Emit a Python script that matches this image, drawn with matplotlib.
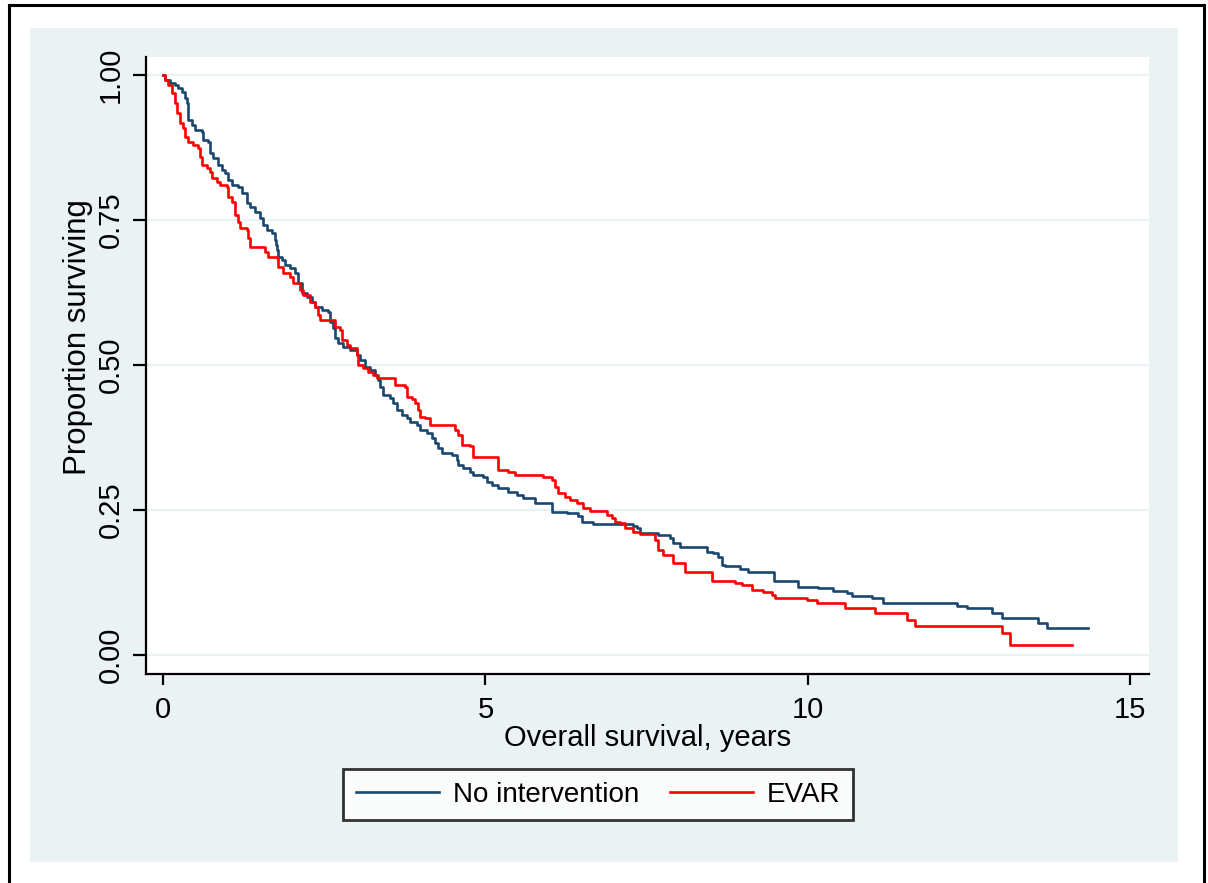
#!/usr/bin/env python3
"""Kaplan-Meier overall survival: no intervention vs EVAR."""

import matplotlib

matplotlib.use("Agg")
import matplotlib.pyplot as plt
from matplotlib.lines import Line2D
from matplotlib.patches import Rectangle
import numpy as np

# step times (years) and survival after each step
NO_INT_TIME = [
    0.0, 0.031, 0.109, 0.186, 0.233, 0.295, 0.341, 0.372, 0.388, 0.450, 0.496,
    0.605, 0.620, 0.698, 0.729, 0.776, 0.853, 0.915, 0.962, 1.008, 1.070, 1.163,
    1.225, 1.303, 1.349, 1.427, 1.505, 1.551, 1.613, 1.691, 1.737, 1.753, 1.768,
    1.784, 1.846, 1.892, 1.970, 2.047, 2.094, 2.156, 2.234, 2.311, 2.358, 2.466,
    2.559, 2.590, 2.637, 2.668, 2.714, 2.792, 2.901, 3.009, 3.056, 3.133, 3.211,
    3.288, 3.335, 3.366, 3.412, 3.521, 3.568, 3.630, 3.707, 3.785, 3.831, 3.940,
    3.986, 4.095, 4.172, 4.219, 4.265, 4.327, 4.483, 4.560, 4.576, 4.653, 4.762,
    4.808, 4.964, 5.026, 5.103, 5.196, 5.351, 5.491, 5.584, 5.770, 6.034, 6.267,
    6.437, 6.499, 6.670, 7.290, 7.352, 7.399, 7.678, 7.864, 7.911, 8.019, 8.438,
    8.531, 8.609, 8.671, 8.717, 8.950, 9.074, 9.477, 9.849, 10.160, 10.392,
    10.610, 10.687, 10.997, 11.168, 12.316, 12.471, 12.859, 13.014, 13.572,
    13.712,
]
NO_INT_SURV = [
    1.0, 0.991, 0.986, 0.983, 0.978, 0.971, 0.960, 0.952, 0.922, 0.914, 0.905,
    0.902, 0.888, 0.884, 0.866, 0.857, 0.845, 0.836, 0.831, 0.819, 0.810, 0.807,
    0.797, 0.779, 0.772, 0.764, 0.753, 0.741, 0.733, 0.728, 0.716, 0.707, 0.698,
    0.686, 0.681, 0.672, 0.667, 0.659, 0.641, 0.624, 0.617, 0.609, 0.600, 0.595,
    0.591, 0.574, 0.564, 0.547, 0.538, 0.531, 0.526, 0.517, 0.509, 0.497, 0.491,
    0.483, 0.474, 0.462, 0.448, 0.443, 0.434, 0.422, 0.414, 0.409, 0.402, 0.397,
    0.388, 0.383, 0.374, 0.366, 0.357, 0.348, 0.345, 0.336, 0.328, 0.322, 0.316,
    0.310, 0.307, 0.298, 0.293, 0.288, 0.281, 0.276, 0.271, 0.262, 0.247, 0.245,
    0.240, 0.229, 0.226, 0.222, 0.219, 0.210, 0.207, 0.202, 0.193, 0.186, 0.178,
    0.176, 0.169, 0.155, 0.153, 0.148, 0.143, 0.128, 0.117, 0.116, 0.110,
    0.107, 0.102, 0.098, 0.090, 0.084, 0.081, 0.072, 0.064, 0.055,
    0.047,
]
NO_INT_END = 14.348

EVAR_TIME = [
    0.0, 0.031, 0.078, 0.140, 0.186, 0.217, 0.264, 0.310, 0.341, 0.388, 0.465,
    0.543, 0.574, 0.605, 0.682, 0.729, 0.760, 0.838, 0.884, 0.993, 1.008, 1.070,
    1.117, 1.163, 1.194, 1.303, 1.318, 1.349, 1.582, 1.629, 1.768, 1.784, 1.861,
    1.970, 2.016, 2.125, 2.172, 2.280, 2.358, 2.404, 2.435, 2.668, 2.745, 2.776,
    2.854, 2.901, 3.009, 3.025, 3.102, 3.180, 3.257, 3.319, 3.599, 3.754, 3.785,
    3.862, 3.909, 3.955, 3.986, 4.064, 4.141, 4.529, 4.576, 4.638, 4.762, 4.808,
    5.196, 5.351, 5.460, 5.894, 6.034, 6.080, 6.127, 6.235, 6.313, 6.422, 6.515,
    6.623, 6.887, 6.964, 7.011, 7.089, 7.166, 7.290, 7.399, 7.632, 7.678, 7.756,
    7.911, 8.097, 8.516, 8.872, 8.981, 9.136, 9.307, 9.446, 9.493, 9.989,
    10.144, 10.579, 11.044, 11.540, 11.664, 13.014, 13.138,
]
EVAR_SURV = [
    1.0, 0.991, 0.983, 0.969, 0.952, 0.934, 0.917, 0.909, 0.893, 0.884, 0.879,
    0.874, 0.859, 0.845, 0.840, 0.833, 0.822, 0.816, 0.810, 0.807, 0.790, 0.781,
    0.759, 0.747, 0.736, 0.733, 0.719, 0.703, 0.695, 0.686, 0.684, 0.669, 0.659,
    0.652, 0.641, 0.629, 0.621, 0.609, 0.600, 0.586, 0.578, 0.566, 0.560, 0.543,
    0.534, 0.529, 0.517, 0.500, 0.495, 0.488, 0.483, 0.478, 0.466, 0.462, 0.445,
    0.441, 0.434, 0.422, 0.410, 0.409, 0.397, 0.388, 0.379, 0.362, 0.360, 0.341,
    0.319, 0.316, 0.310, 0.307, 0.302, 0.290, 0.279, 0.272, 0.267, 0.262, 0.253,
    0.248, 0.241, 0.236, 0.229, 0.228, 0.219, 0.212, 0.209, 0.198, 0.181, 0.172,
    0.159, 0.143, 0.128, 0.124, 0.121, 0.112, 0.109, 0.103, 0.098, 0.095,
    0.090, 0.081, 0.072, 0.060, 0.050, 0.038, 0.017,
]
EVAR_END = 14.099

GROUP_LABELS = ["No intervention", "EVAR"]
X_TICKS = [0, 5, 10, 15]
Y_TICKS = [0.0, 0.25, 0.50, 0.75, 1.0]

NAVY = "#1a476f"
RED = "#ff0000"
BG = "#eaf2f3"

W, H = 1208, 883


def fx(px):
    return px / W


def fy(py):
    return 1 - py / H


def main():
    plt.rcParams["font.family"] = ["Liberation Sans", "DejaVu Sans"]
    fig = plt.figure(figsize=(W / 100, H / 100), dpi=100, facecolor="white")

    # outer frame and graph region
    fig.add_artist(Rectangle((fx(30), fy(862)), fx(1178) - fx(30), fy(28) - fy(862),
                             transform=fig.transFigure, facecolor=BG, edgecolor="none",
                             zorder=0))
    frame = dict(transform=fig.transFigure, color="black", linewidth=2.2)
    fig.add_artist(Line2D([fx(9), fx(9)], [0, fy(5)], **frame))
    fig.add_artist(Line2D([fx(9), fx(1204)], [fy(5), fy(5)], **frame))
    fig.add_artist(Line2D([fx(1204), fx(1204)], [0, fy(5)], **frame))

    ax = fig.add_axes([fx(146), fy(674), fx(1149) - fx(146), fy(57) - fy(674)])
    ax.set_facecolor("white")

    t1 = np.append(NO_INT_TIME, NO_INT_END)
    s1 = np.append(NO_INT_SURV, NO_INT_SURV[-1])
    t2 = np.append(EVAR_TIME, EVAR_END)
    s2 = np.append(EVAR_SURV, EVAR_SURV[-1])
    ax.step(t1, s1, where="post", color=NAVY, linewidth=1.9, label=GROUP_LABELS[0], zorder=3)
    ax.step(t2, s2, where="post", color=RED, linewidth=1.9, label=GROUP_LABELS[1], zorder=3)

    ax.set_xlim(-0.264, 15.29)
    ax.set_ylim(-0.033, 1.031)
    ax.set_xticks(X_TICKS)
    ax.set_yticks(Y_TICKS)
    ax.set_yticklabels([f"{v:.2f}" for v in Y_TICKS])
    ax.grid(axis="y", color=BG, linewidth=1.6)
    ax.set_axisbelow(True)
    for side in ("top", "right"):
        ax.spines[side].set_visible(False)
    for side in ("left", "bottom"):
        ax.spines[side].set_linewidth(1.6)
    ax.tick_params(axis="x", length=8, width=1.6, labelsize=21, pad=8)
    ax.tick_params(axis="y", length=9.5, width=1.6, labelsize=21, pad=6)
    for lab in ax.get_yticklabels():
        lab.set_rotation(90)
        lab.set_verticalalignment("center")

    ax.set_xlabel("Overall survival, years", fontsize=21, labelpad=0)
    ax.set_ylabel("Proportion surviving", fontsize=22.5)
    ax.yaxis.set_label_coords(-0.053, 0.546)

    leg = fig.legend(loc="center", bbox_to_anchor=(fx(598), fy(794.5)), ncol=2,
                     fontsize=20, frameon=True, fancybox=False, edgecolor="black",
                     handlelength=3.0, handletextpad=0.5, columnspacing=1.1,
                     borderpad=0.45)
    leg.get_frame().set_linewidth(2.0)
    for line in leg.get_lines():
        line.set_linewidth(1.9)

    fig.savefig("out.png", dpi=100)
    plt.close(fig)


if __name__ == "__main__":
    main()
